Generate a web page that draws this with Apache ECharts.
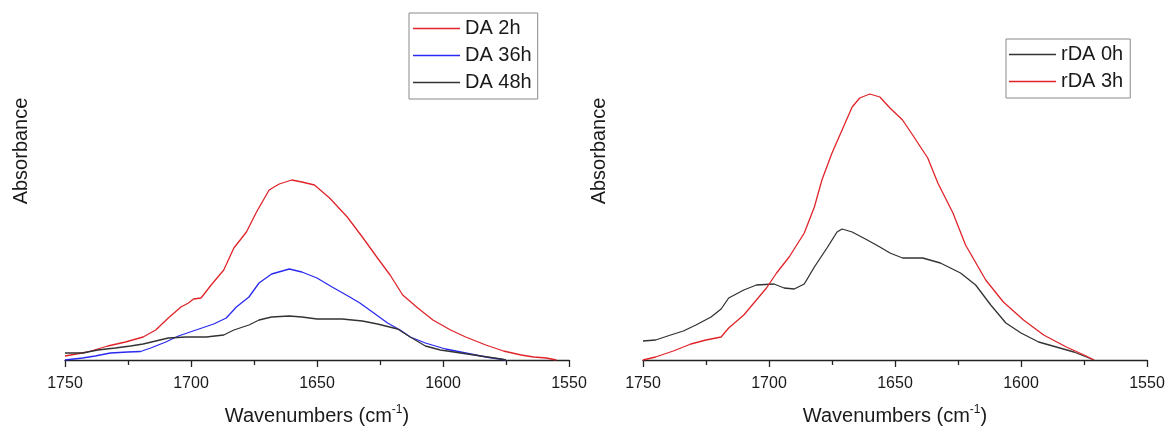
<!DOCTYPE html>
<html>
<head>
<meta charset="utf-8">
<script src="https://cdn.jsdelivr.net/npm/echarts@6/dist/echarts.min.js"></script>
<style>
html,body{margin:0;padding:0;background:#fff;}
#chart{width:1167px;height:427px;}
</style>
</head>
<body>
<div id="chart"></div>
<script>
// ---- Data (wavenumber in cm-1, absorbance in arbitrary units) ----
const xTicks = [1750, 1700, 1650, 1600, 1550];

const da2hX = [1750,1741,1733,1726,1719,1714,1709,1704,1701,1699,1696,1692,1687,1683,1678,1674,1669,1665,1660,1656,1651,1645,1638,1632,1626,1621,1616,1610,1604,1597,1591,1583,1576,1569,1564,1559,1555];
const da2hY = [0.004,0.008,0.014,0.018,0.023,0.030,0.042,0.053,0.057,0.061,0.062,0.075,0.090,0.112,0.128,0.148,0.170,0.176,0.180,0.178,0.175,0.162,0.143,0.123,0.102,0.085,0.065,0.052,0.040,0.030,0.023,0.015,0.009,0.005,0.003,0.002,0.000];

const da36hX = [1750,1743,1738,1732,1725,1720,1716,1710,1705,1698,1691,1686,1682,1677,1673,1668,1661,1656,1650,1644,1637,1633,1628,1622,1617,1613,1607,1599,1591,1583,1575];
const da36hY = [0.000,0.002,0.004,0.007,0.008,0.0085,0.012,0.018,0.024,0.030,0.036,0.042,0.053,0.063,0.077,0.086,0.091,0.088,0.082,0.073,0.063,0.057,0.048,0.037,0.030,0.023,0.017,0.011,0.007,0.003,0.000];

const da48hX = [1750,1743,1737,1730,1724,1719,1714,1709,1702,1694,1687,1683,1677,1673,1668,1661,1656,1650,1640,1632,1626,1618,1613,1607,1601,1593,1585,1577,1575];
const da48hY = [0.007,0.007,0.010,0.012,0.014,0.016,0.019,0.022,0.023,0.023,0.025,0.030,0.035,0.040,0.043,0.044,0.043,0.041,0.041,0.039,0.036,0.031,0.023,0.014,0.010,0.007,0.004,0.001,0.000];

const rda0hX = [1750,1745,1739,1734,1729,1723,1719,1716,1710,1705,1698,1694,1690,1686,1682,1677,1673,1671,1667,1661,1656,1652,1647,1639,1632,1624,1618,1612,1606,1600,1593,1586,1579,1574,1571];
const rda0hY = [0.019,0.020,0.025,0.029,0.035,0.043,0.051,0.062,0.070,0.075,0.076,0.072,0.071,0.076,0.093,0.112,0.128,0.131,0.128,0.120,0.113,0.107,0.102,0.102,0.097,0.087,0.075,0.055,0.037,0.027,0.018,0.013,0.008,0.003,0.000];

const rda3hX = [1750,1745,1738,1731,1725,1719,1716,1710,1705,1701,1697,1692,1686,1682,1679,1675,1671,1667,1664,1660,1656,1652,1647,1643,1637,1633,1627,1622,1614,1607,1599,1591,1582,1575,1571];
const rda3hY = [0.000,0.003,0.009,0.016,0.020,0.023,0.032,0.045,0.060,0.072,0.087,0.103,0.127,0.153,0.180,0.207,0.230,0.253,0.262,0.266,0.263,0.252,0.240,0.225,0.202,0.177,0.147,0.115,0.080,0.058,0.040,0.025,0.013,0.005,0.000];

const leftNames = ['DA 2h', 'DA 36h', 'DA 48h'];
const rightNames = ['rDA 0h', 'rDA 3h'];

// ---- Build ----
const zip = (xs, ys) => xs.map((x, i) => [x, ys[i]]);
const FONT = "'Liberation Sans', Arial, Helvetica, sans-serif";
const TXT = '#1a1a1a';
const RED = '#e0242a', BLUE = '#2a2af0', BLACK = '#333333';

function xAxisCfg(gi) {
  return {
    gridIndex: gi, type: 'value', inverse: true,
    min: 1550, max: 1750, interval: 50,
    axisLine: { show: true, onZero: false, lineStyle: { color: '#222', width: 1.3 } },
    axisTick: { show: true, length: 7, lineStyle: { color: '#222', width: 1.3 } },
    minorTick: { show: true, splitNumber: 2, length: 5, lineStyle: { color: '#222', width: 1.3 } },
    splitLine: { show: false },
    axisLabel: { fontSize: 16, color: TXT, fontFamily: FONT, margin: 16,
      formatter: v => xTicks.includes(v) ? String(v) : '' },
    name: '{a|Wavenumbers (cm}{s|-1}{a|)}',
    nameLocation: 'middle', nameGap: 44,
    nameTextStyle: {
      rich: {
        a: { fontSize: 20, color: TXT, fontFamily: FONT, lineHeight: 24 },
        s: { fontSize: 12, color: TXT, fontFamily: FONT, verticalAlign: 'top', lineHeight: 12, padding: [0, 0, 10, 0] }
      }
    }
  };
}
function yAxisCfg(gi) {
  return {
    gridIndex: gi, type: 'value', min: 0, max: 0.350,
    axisLine: { show: false }, axisTick: { show: false },
    axisLabel: { show: false }, splitLine: { show: false },
    name: 'Absorbance', nameLocation: 'middle', nameGap: 34, nameRotate: 90,
    nameTextStyle: { fontSize: 20, color: TXT, fontFamily: FONT, padding: [0, 0, 0, 68] }
  };
}
function lineSeries(name, xs, ys, color, gi) {
  return {
    name, type: 'line', xAxisIndex: gi, yAxisIndex: gi,
    data: zip(xs, ys), symbol: 'none', smooth: false,
    lineStyle: { color, width: 1.3 }, itemStyle: { color },
    animation: false
  };
}
function legendCfg(names, left, top, pad) {
  return {
    data: names, left, top, orient: 'vertical',
    icon: 'rect',
    itemWidth: 47, itemHeight: 1.5, itemGap: 6,
    padding: pad,
    borderColor: '#8a8a8a', borderWidth: 1,
    textStyle: { fontSize: 20, color: TXT, fontFamily: FONT, lineHeight: 21 },
    selectedMode: false
  };
}

const option = {
  backgroundColor: '#fff',
  animation: false,
  grid: [
    { left: 65, top: 10, width: 504, height: 350, outerBoundsMode: 'none', containLabel: false },
    { left: 643, top: 10, width: 504, height: 350, outerBoundsMode: 'none', containLabel: false }
  ],
  xAxis: [xAxisCfg(0), xAxisCfg(1)],
  yAxis: [yAxisCfg(0), yAxisCfg(1)],
  legend: [
    legendCfg(leftNames, 409, 13, [5, 6, 6, 4]),
    legendCfg(rightNames, 1006, 39, [5, 7, 6, 3])
  ],
  series: [
    lineSeries('DA 2h', da2hX, da2hY, RED, 0),
    lineSeries('DA 36h', da36hX, da36hY, BLUE, 0),
    lineSeries('DA 48h', da48hX, da48hY, BLACK, 0),
    lineSeries('rDA 0h', rda0hX, rda0hY, BLACK, 1),
    lineSeries('rDA 3h', rda3hX, rda3hY, RED, 1)
  ]
};
const chart = echarts.init(document.getElementById('chart'), null, { renderer: 'canvas' });
chart.setOption(option);
</script>
</body>
</html>
